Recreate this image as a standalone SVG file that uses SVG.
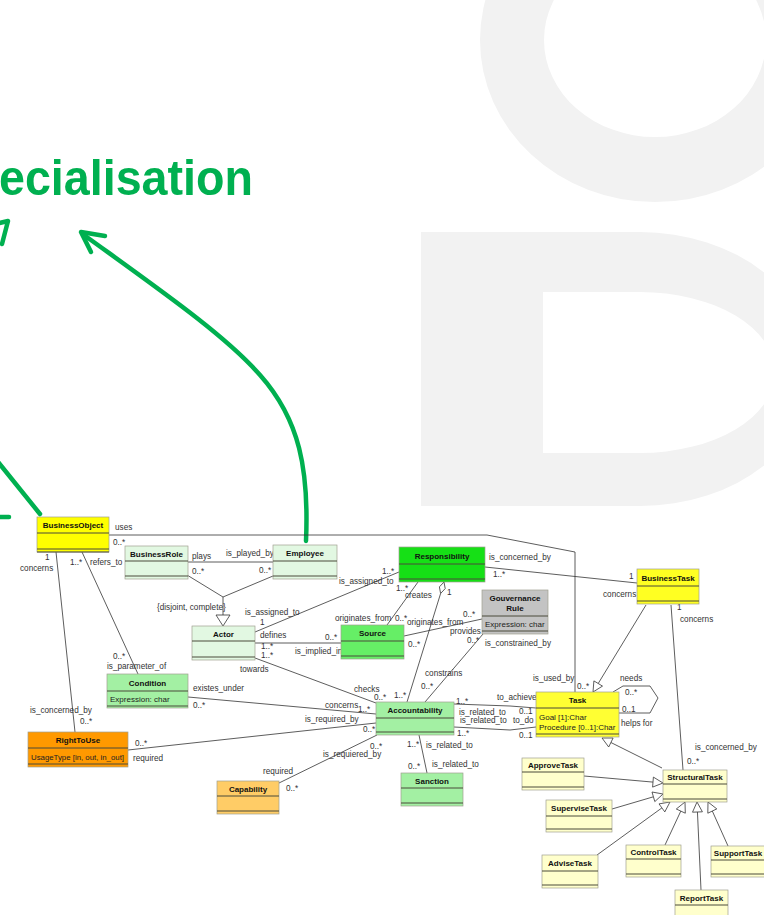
<svg xmlns="http://www.w3.org/2000/svg" width="764" height="915" viewBox="0 0 764 915">
<style>
  .wm{fill:#f2f2f2;fill-rule:evenodd}
  .hl{fill:none;stroke:#00b050;stroke-width:4.5;stroke-linecap:round;stroke-linejoin:round}
  .box{stroke:#a0a090;stroke-width:0.7}
  .sep{fill:none;stroke:#4a4a3a;stroke-width:1}
  .nm{font-family:"Liberation Sans",Arial,sans-serif;font-size:8px;font-weight:bold;fill:#111;text-anchor:middle}
  .at{font-family:"Liberation Sans",Arial,sans-serif;font-size:8px;fill:#222}
  .lb{font-family:"Liberation Sans",Arial,sans-serif;font-size:8.2px;fill:#333}
  .ln{fill:none;stroke:#333;stroke-width:0.8}
  .gen{fill:#fff;stroke:#333;stroke-width:0.8}
  .title{font-family:"Liberation Sans",Arial,sans-serif;font-size:50px;font-weight:bold;fill:#00b050}
</style>

<!-- background logo shapes -->
<g id="watermark">
  <path class="wm" d="M480,40a175,162 0 1,0 350,0a175,162 0 1,0 -350,0Z M544,40a111,97 0 1,0 222,0a111,97 0 1,0 -222,0Z"/>
  <path class="wm" d="M421,232H640A175,137 0 0 1 640,506H421Z M543,292H640A135,80.5 0 0 1 640,453H543Z"/>
</g>

<!-- heading and highlight arrows -->
<text class="title" x="-1" y="195" textLength="254" lengthAdjust="spacingAndGlyphs">ecialisation</text>
<g id="highlights">
  <polyline class="hl" points="-14,226 8,221 2,244"/>
  <path class="hl" d="M306,541C309,470 300,420 260,375C225,335 160,290 84,235"/>
  <polyline class="hl" points="105,236 81,232 91,252"/>
  <path class="hl" d="M40,514L-10,452"/>
  <path class="hl" d="M-5,517H9"/>
</g>

<!-- associations and generalisations -->
<g id="connectors">
  <path class="ln" d="M109,535H487L575,552V692"/>
  <path class="ln" d="M56,552L75,732"/>
  <path class="ln" d="M82,552L138,674"/>
  <path class="ln" d="M188,562H273"/>
  <path class="ln" d="M187,575L223,597L273,576M223,597V615"/>
  <path class="gen" d="M216,615H230L223,626Z"/>
  <path class="ln" d="M255,632L399,572"/>
  <path class="ln" d="M255,643H341"/>
  <path class="ln" d="M255,658L376,703"/>
  <path class="ln" d="M418,582L387,625"/>
  <path class="ln" d="M404,636L482,619"/>
  <path class="ln" d="M440.6,593.5L407,702"/>
  <path class="gen" d="M444,582L445.2,588.6L440.6,593.5L439.4,586.9Z"/>
  <path class="ln" d="M483,634L425,702"/>
  <path class="ln" d="M188,697L376,714"/>
  <path class="ln" d="M128,750L376,723"/>
  <path class="ln" d="M279,783L377,735"/>
  <path class="ln" d="M419,735L427,773"/>
  <path class="ln" d="M454,704L510,706L536,708"/>
  <path class="ln" d="M454,727L510,730L536,727"/>
  <path class="ln" d="M613,692L623,686H650L658,698L650,713H619"/>
  <path class="ln" d="M485,567L637,583"/>
  <path class="ln" d="M646,605L598.2,683.5"/>
  <path class="gen" d="M593,692L602.5,686.1L593.9,680.9Z"/>
  <path class="ln" d="M671,605L683,770"/>
  <path class="ln" d="M662,768L610.9,742.5"/>
  <path class="gen" d="M602,738L613.1,738L608.7,747Z"/>
  <path class="ln" d="M584,776L653,782.1"/>
  <path class="gen" d="M663,783L652.6,787.1L653.4,777.1Z"/>
  <path class="ln" d="M612,809L653.4,796.8"/>
  <path class="gen" d="M663,794L654.8,801.6L652,792Z"/>
  <path class="ln" d="M597,855L661.9,807.9"/>
  <path class="gen" d="M670,802L664.8,811.9L659,803.9Z"/>
  <path class="ln" d="M665,845L680.8,811.1"/>
  <path class="gen" d="M685,802L685.3,813.2L676.3,809Z"/>
  <path class="ln" d="M701,890L697.45,812"/>
  <path class="gen" d="M697,802L702.4,811.8L692.5,812.2Z"/>
  <path class="ln" d="M728,846L712.3,811"/>
  <path class="gen" d="M708,802L716.8,808.9L707.8,813.2Z"/>
</g>

<!-- role names and multiplicities -->
<g id="labels" class="lb">
  <text x="115" y="530">uses</text>
  <text x="113" y="545">0..*</text>
  <text x="45" y="560">1</text>
  <text x="20" y="571">concerns</text>
  <text x="70" y="565">1..*</text>
  <text x="90" y="565">refers_to</text>
  <text x="192" y="559">plays</text>
  <text x="192" y="574">0..*</text>
  <text x="226" y="556">is_played_by</text>
  <text x="259" y="573">0..*</text>
  <text x="157" y="610">{disjoint, complete}</text>
  <text x="245" y="615">is_assigned_to</text>
  <text x="260" y="625">1</text>
  <text x="382" y="574">1..*</text>
  <text x="339" y="584">is_assigned_to</text>
  <text x="396" y="591">1..*</text>
  <text x="405" y="598">creates</text>
  <text x="447" y="595">1</text>
  <text x="489" y="560">is_concerned_by</text>
  <text x="493" y="577">1..*</text>
  <text x="335" y="621">originates_from</text>
  <text x="395" y="621">0..*</text>
  <text x="407" y="625">originates_from</text>
  <text x="463" y="617">0..*</text>
  <text x="450" y="634">provides</text>
  <text x="467" y="643">0..*</text>
  <text x="485" y="646">is_constrained_by</text>
  <text x="325" y="640">0..*</text>
  <text x="408" y="647">0..*</text>
  <text x="260" y="638">defines</text>
  <text x="261" y="649">1..*</text>
  <text x="261" y="658">1..*</text>
  <text x="295" y="654">is_implied_in</text>
  <text x="240" y="672">towards</text>
  <text x="354" y="692">checks</text>
  <text x="374" y="700">0..*</text>
  <text x="394" y="698">1..*</text>
  <text x="425" y="676">constrains</text>
  <text x="421" y="689">0..*</text>
  <text x="193" y="691">existes_under</text>
  <text x="193" y="708">0..*</text>
  <text x="325" y="708">concerns</text>
  <text x="358" y="712">1..*</text>
  <text x="305" y="722">is_required_by</text>
  <text x="363" y="732">0..*</text>
  <text x="370" y="749">0..*</text>
  <text x="323" y="757">is_requiered_by</text>
  <text x="263" y="774">required</text>
  <text x="286" y="791">0..*</text>
  <text x="407" y="747">1..*</text>
  <text x="426" y="748">is_related_to</text>
  <text x="408" y="769">0..*</text>
  <text x="432" y="767">is_related_to</text>
  <text x="135" y="746">0..*</text>
  <text x="133" y="761">required</text>
  <text x="113" y="659">0..*</text>
  <text x="107" y="669">is_parameter_of</text>
  <text x="30" y="713">is_concerned_by</text>
  <text x="80" y="724">0..*</text>
  <text x="456" y="704">1..*</text>
  <text x="497" y="700">to_achieve</text>
  <text x="459" y="715">is_related_to</text>
  <text x="519" y="714">0..1</text>
  <text x="460" y="723">is_related_to</text>
  <text x="513" y="723">to_do</text>
  <text x="457" y="736">1..*</text>
  <text x="519" y="738">0..1</text>
  <text x="533" y="681">is_used_by</text>
  <text x="577" y="689">0..*</text>
  <text x="620" y="681">needs</text>
  <text x="625" y="695">0..*</text>
  <text x="622" y="712">0..1</text>
  <text x="621" y="726">helps for</text>
  <text x="629" y="579">1</text>
  <text x="603" y="597">concerns</text>
  <text x="677" y="610">1</text>
  <text x="680" y="622">concerns</text>
  <text x="695" y="750">is_concerned_by</text>
  <text x="687" y="764">0..*</text>
</g>

<!-- classes -->
<g id="BusinessObject">
  <rect class="box" x="37" y="517" width="72" height="35" fill="#ffff00"/>
  <path class="sep" d="M37,533H109M37,549H109M37,552H109"/>
  <text class="nm" x="73" y="528">BusinessObject</text>
</g>
<g id="BusinessRole">
  <rect class="box" x="125" y="546" width="63" height="33" fill="#e2f8e2"/>
  <path class="sep" d="M125,561H188M125,576H188"/>
  <text class="nm" x="156.5" y="556.5">BusinessRole</text>
</g>
<g id="Employee">
  <rect class="box" x="273" y="545" width="64" height="34" fill="#e2f8e2"/>
  <path class="sep" d="M273,561H337M273,576H337"/>
  <text class="nm" x="305" y="556">Employee</text>
</g>
<g id="Actor">
  <rect class="box" x="192" y="626" width="63" height="34" fill="#e2f8e2"/>
  <path class="sep" d="M192,641H255M192,657H255"/>
  <text class="nm" x="223.5" y="636.5">Actor</text>
</g>
<g id="Responsibility">
  <rect class="box" x="399" y="547" width="86" height="35" fill="#16e016"/>
  <path class="sep" d="M399,564H485M399,579H485"/>
  <text class="nm" x="442" y="558.5">Responsibility</text>
</g>
<g id="GouvernanceRule">
  <rect class="box" x="482" y="590" width="66" height="44" fill="#c3c3c3"/>
  <path class="sep" d="M482,616H548M482,631H548"/>
  <text class="nm" x="515" y="601">Gouvernance</text>
  <text class="nm" x="515" y="611">Rule</text>
  <text class="at" x="485" y="627">Expression: char</text>
</g>
<g id="Source">
  <rect class="box" x="341" y="625" width="63" height="34" fill="#66ee66"/>
  <path class="sep" d="M341,641H404M341,656H404"/>
  <text class="nm" x="372.5" y="636">Source</text>
</g>
<g id="Condition">
  <rect class="box" x="107" y="674" width="81" height="34" fill="#a3f0a3"/>
  <path class="sep" d="M107,691H188M107,706H188"/>
  <text class="nm" x="147.5" y="685.5">Condition</text>
  <text class="at" x="110" y="702">Expression: char</text>
</g>
<g id="Accountability">
  <rect class="box" x="376" y="702" width="78" height="33" fill="#a3f0a3"/>
  <path class="sep" d="M376,718H454M376,732H454"/>
  <text class="nm" x="415" y="713">Accountability</text>
</g>
<g id="Task">
  <rect class="box" x="536" y="692" width="83" height="45" fill="#ffff33"/>
  <path class="sep" d="M536,708H619M536,734H619"/>
  <text class="nm" x="577.5" y="703">Task</text>
  <text class="at" x="539" y="720">Goal [1]:Char</text>
  <text class="at" x="539" y="730">Procedure [0..1]:Char</text>
</g>
<g id="BusinessTask">
  <rect class="box" x="637" y="569" width="62" height="35" fill="#ffff22"/>
  <path class="sep" d="M637,586H699M637,601H699"/>
  <text class="nm" x="668" y="580.5">BusinessTask</text>
</g>
<g id="RightToUse">
  <rect class="box" x="28" y="732" width="100" height="35" fill="#ff9900"/>
  <path class="sep" d="M28,748H128M28,764H128"/>
  <text class="nm" x="78" y="743">RightToUse</text>
  <text class="at" x="31" y="760" textLength="93" lengthAdjust="spacingAndGlyphs">UsageType  [in, out, in_out]</text>
</g>
<g id="Capability">
  <rect class="box" x="217" y="781" width="62" height="33" fill="#ffcc66"/>
  <path class="sep" d="M217,796H279M217,811H279"/>
  <text class="nm" x="248" y="791.5">Capability</text>
</g>
<g id="Sanction">
  <rect class="box" x="401" y="773" width="62" height="33" fill="#a3f0a3"/>
  <path class="sep" d="M401,788H463M401,803H463"/>
  <text class="nm" x="432" y="783.5">Sanction</text>
</g>
<g id="StructuralTask">
  <rect class="box" x="663" y="770" width="64" height="32" fill="#ffffcc"/>
  <path class="sep" d="M663,784H727M663,799H727"/>
  <text class="nm" x="695" y="780">StructuralTask</text>
</g>
<g id="ApproveTask">
  <rect class="box" x="522" y="758" width="62" height="32" fill="#ffffcc"/>
  <path class="sep" d="M522,772H584M522,787H584"/>
  <text class="nm" x="553" y="768">ApproveTask</text>
</g>
<g id="SuperviseTask">
  <rect class="box" x="546" y="800" width="66" height="32" fill="#ffffcc"/>
  <path class="sep" d="M546,816H612M546,829H612"/>
  <text class="nm" x="579" y="811">SuperviseTask</text>
</g>
<g id="AdviseTask">
  <rect class="box" x="542" y="855" width="56" height="33" fill="#ffffcc"/>
  <path class="sep" d="M542,871H598M542,885H598"/>
  <text class="nm" x="570" y="866">AdviseTask</text>
</g>
<g id="ControlTask">
  <rect class="box" x="626" y="845" width="55" height="32" fill="#ffffcc"/>
  <path class="sep" d="M626,859H681M626,874H681"/>
  <text class="nm" x="653.5" y="855">ControlTask</text>
</g>
<g id="ReportTask">
  <rect class="box" x="675" y="890" width="53" height="28" fill="#ffffcc"/>
  <path class="sep" d="M675,905H728"/>
  <text class="nm" x="701.5" y="900.5">ReportTask</text>
</g>
<g id="SupportTask">
  <rect class="box" x="711" y="846" width="56" height="31" fill="#ffffcc"/>
  <path class="sep" d="M711,860H767M711,874H767"/>
  <text class="nm" x="738" y="856">SupportTask</text>
</g>
</svg>
